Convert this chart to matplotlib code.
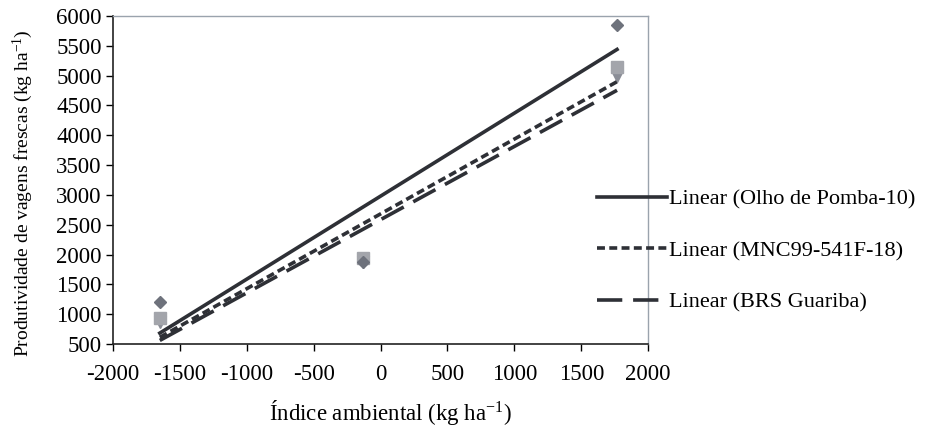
import numpy as np
import matplotlib
matplotlib.use('agg')
import matplotlib.pyplot as plt

plt.rcParams['font.family'] = ['Liberation Serif', 'DejaVu Serif']
plt.rcParams['mathtext.fontset'] = 'custom'
plt.rcParams['mathtext.rm'] = 'Liberation Serif'
plt.rcParams['mathtext.it'] = 'Liberation Serif:italic'
plt.rcParams['axes.unicode_minus'] = False

# environmental index (x) and pod yield per cultivar
indice = [-1650, -130, 1767]
olho_pomba = [1200, 1870, 5850]
mnc99 = [930, 1950, 5150]
brs_guariba = [870, 1870, 5000]

labels = ['Linear (Olho de Pomba-10)', 'Linear (MNC99-541F-18)', 'Linear (BRS Guariba)']
xticks = [-2000, -1500, -1000, -500, 0, 500, 1000, 1500, 2000]
yticks = list(range(500, 6001, 500))

fig = plt.figure(figsize=(9.26, 4.28), dpi=100)
ax = fig.add_axes([0.122, 0.196, 0.578, 0.767])

# markers
ax.plot(indice, olho_pomba, 'D', ms=6.5, color='#6e727c', mec='#6e727c', zorder=4)
ax.plot(indice, mnc99, 's', ms=8, color='#a3a5ab', mec='#a3a5ab', zorder=3)
ax.plot(indice, brs_guariba, 'v', ms=8, color='#8a8d96', mec='#8a8d96', zorder=2)

# linear trendlines
x = np.array(indice, dtype=float)
xs = np.array([x.min(), x.max()])
styles = [dict(ls='-'), dict(ls=(0, (2.2, 1.2))), dict(ls=(0, (7, 3)))]
handles = []
for ys, lab, st in zip([olho_pomba, mnc99, brs_guariba], labels, styles):
    b, a = np.polyfit(x, ys, 1)
    h, = ax.plot(xs, a + b * xs, color='#2e3036', lw=2.6, label=lab, zorder=5, **st)
    handles.append(h)

ax.set_xlim(-2000, 2000)
ax.set_ylim(500, 6000)
ax.set_xticks(xticks)
ax.set_yticks(yticks)
ax.tick_params(direction='out', length=5, width=1, labelsize=16.5, pad=9)
ax.tick_params(axis='y', pad=3)
for s in ['top', 'right']:
    ax.spines[s].set_color('#9aa3ad')
    ax.spines[s].set_linewidth(1)
for s in ['left', 'bottom']:
    ax.spines[s].set_color('#222222')
    ax.spines[s].set_linewidth(1.2)

ax.set_xlabel(r'Índice ambiental (kg ha$^{\mathregular{-1}}$)', fontsize=16.5)
ax.set_ylabel(r'Produtividade de vagens frescas (kg ha$^{\mathregular{-1}}$)', fontsize=14)
ax.xaxis.set_label_coords(0.518, -0.165)
ax.yaxis.set_label_coords(-0.146, 0.46)

fig.legend(handles=handles, loc='upper left', bbox_to_anchor=(0.645, 0.558),
           frameon=False, fontsize=16, handlelength=3.15, handletextpad=0.1,
           labelspacing=1.39, borderpad=0, borderaxespad=0)

fig.savefig('out.png', dpi=100)
